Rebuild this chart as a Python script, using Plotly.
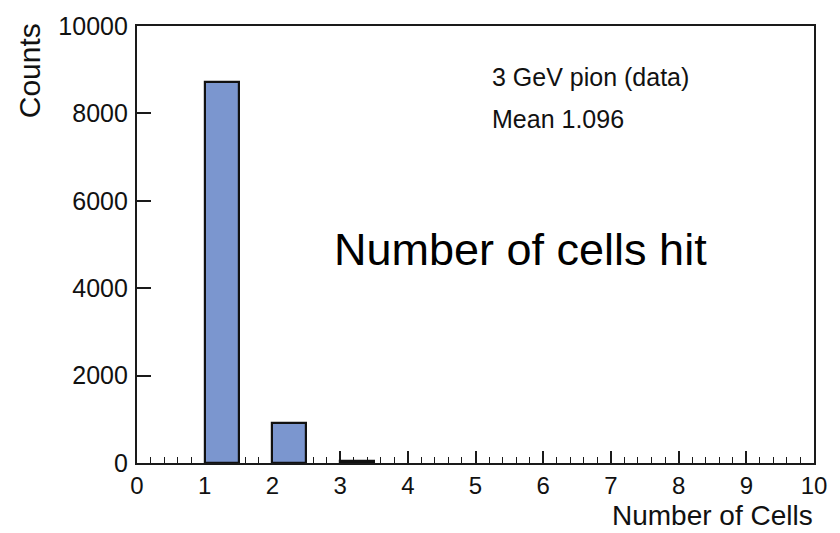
import plotly.graph_objects as go

# Histogram data (bin left edges, bin width 0.5)
bin_left = [1, 2, 3]
counts = [8720, 920, 50]
bin_width = 0.5

x_ticks = [0, 1, 2, 3, 4, 5, 6, 7, 8, 9, 10]
y_ticks = [0, 2000, 4000, 6000, 8000, 10000]

stat_lines = ["3 GeV pion (data)", "Mean 1.096"]
overlay_text = "Number of cells hit"
x_title = "Number of Cells"
y_title = "Counts"

FONT = "Liberation Sans, Arial, Helvetica, sans-serif"
LINE = "#1a1a1a"
TXT = "#111111"

fig = go.Figure()
fig.add_trace(go.Bar(
    x=bin_left, y=counts, width=bin_width, offset=0,
    marker=dict(color="#7b96cf", line=dict(color="#111111", width=2.2)),
    showlegend=False,
))

fig.update_layout(
    width=840, height=533,
    margin=dict(l=137, r=26, t=20, b=70),
    paper_bgcolor="white", plot_bgcolor="white",
    font=dict(family=FONT, color=TXT),
    bargap=0,
)

fig.update_xaxes(
    range=[0, 10], tickvals=x_ticks, ticktext=[str(v) for v in x_ticks],
    ticks="inside", ticklen=12, tickwidth=1.6, tickcolor=LINE,
    minor=dict(dtick=0.2, tick0=0, ticks="inside", ticklen=6, tickwidth=1.4, tickcolor=LINE),
    showline=True, linecolor=LINE, linewidth=2.2, mirror=True,
    showgrid=False, zeroline=False,
    tickfont=dict(size=24, family=FONT, color=TXT), ticklabelstandoff=0,
    layer="below traces",
)
fig.update_yaxes(
    range=[0, 10000], tickvals=y_ticks, ticktext=[str(v) for v in y_ticks],
    ticks="inside", ticklen=14, tickwidth=1.6, tickcolor=LINE,
    showline=True, linecolor=LINE, linewidth=2.2, mirror=True,
    showgrid=False, zeroline=False,
    tickfont=dict(size=25, family=FONT, color=TXT), ticklabelstandoff=2,
    layer="below traces",
)

PW, PH = 676, 443
fig.add_annotation(text=stat_lines[0], xref="paper", yref="paper",
                   x=(489 - 137) / PW, y=1 - (72 - 20) / PH,
                   xanchor="left", yanchor="middle", showarrow=False,
                   font=dict(size=25, family=FONT, color=TXT))
fig.add_annotation(text=stat_lines[1], xref="paper", yref="paper",
                   x=(489 - 137) / PW, y=1 - (114 - 20) / PH,
                   xanchor="left", yanchor="middle", showarrow=False,
                   font=dict(size=25, family=FONT, color=TXT))
fig.add_annotation(text=overlay_text, xref="paper", yref="paper",
                   x=(520 - 137) / PW, y=1 - (247 - 20) / PH,
                   xanchor="center", yanchor="middle", showarrow=False,
                   font=dict(size=45, family=FONT, color="black"))
fig.add_annotation(text=x_title, xref="paper", yref="paper",
                   x=1.0, y=-(516 - 463) / PH,
                   xanchor="right", yanchor="middle", showarrow=False, borderpad=0,
                   font=dict(size=28, family=FONT, color=TXT))
fig.add_annotation(text=y_title, xref="paper", yref="paper",
                   x=-(137 - 30) / PW, y=1 - (65 - 20) / PH,
                   xanchor="center", yanchor="middle", showarrow=False, textangle=-90,
                   font=dict(size=30, family=FONT, color=TXT))

fig.write_html("out.html")
